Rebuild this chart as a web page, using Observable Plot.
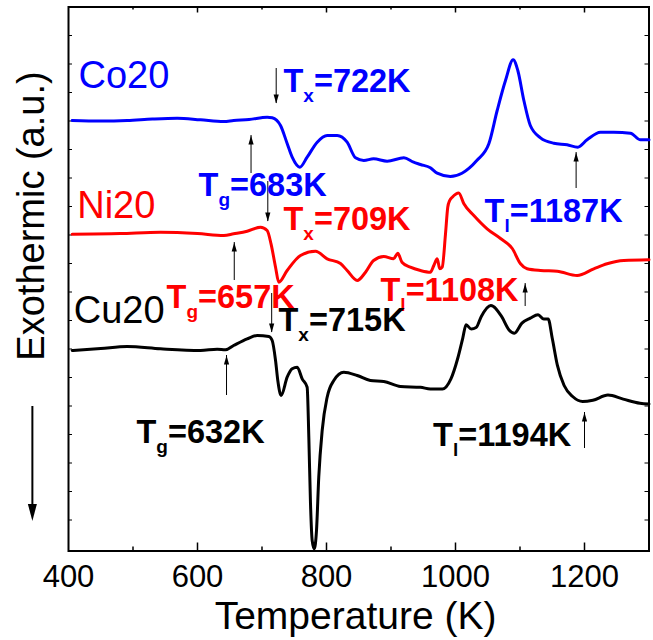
<!DOCTYPE html>
<html><head><meta charset="utf-8">
<script src="https://cdn.jsdelivr.net/npm/d3@7"></script>
<script src="https://cdn.jsdelivr.net/npm/@observablehq/plot@0.6"></script>
<style>body{margin:0;background:#fff}</style>
</head><body><div id="chart"></div>
<script>
// DSC curves: [Temperature (K), heat flow (a.u.)]
const co20 = [[405.7,430.5],[450,430],[491,430.5],[530,432],[568.5,432.8],[604.7,431.2],[640.8,429.5],[656,430.5],[680,431.5],[708,433.8],[715.8,433.2],[728.7,425.5],[739,407.5],[746.8,393.8],[758.6,383.8],[770,393.8],[785.6,408.8],[801,415.5],[816.6,415.5],[832,408.8],[845,393.2],[857.8,390.5],[873,392.2],[894,389.8],[920,393.2],[935,388.8],[945.7,386.5],[961,383.2],[971.6,377.8],[992,374.5],[1010,377.8],[1033,390.5],[1051.7,407.2],[1064.6,440.5],[1077.5,470.5],[1089.4,491.2],[1096.6,480.5],[1106,450.5],[1116,425.5],[1131.8,413.2],[1152.4,407.8],[1173,406.2],[1189.6,403.8],[1204,411.2],[1224.8,418.8],[1245.4,418.8],[1271.3,417.8],[1286.8,411.2],[1300,411.2]];
const ni20 = [[405.7,316.8],[480,317.5],[542.6,318.8],[600,317.5],[640.8,315.5],[656,317.2],[677,319.8],[697.7,323.8],[708,320.5],[714,307.2],[721,283.8],[726,268.8],[739,280.5],[759.7,295.5],[783,299.8],[801,292.2],[821.7,287.5],[832,280.5],[847.6,270.5],[860.5,278.8],[873,290.5],[888.8,294.5],[904,292.2],[910.5,297.8],[917,288.8],[930,283.8],[945.7,280.5],[961,278.8],[966.4,285.5],[971.6,292.2],[975.6,282.2],[979.4,283.8],[984.5,317.2],[988,343.8],[991,350.5],[995,353.8],[1005,358],[1013,347.2],[1028.4,335.5],[1049,322.2],[1069.8,312.5],[1088,302.5],[1100.8,287.2],[1111,282.2],[1131.8,280.5],[1157.6,279.8],[1188.6,275.5],[1214.4,282.2],[1235,287.2],[1261,290.5],[1300,291.2]];
const cu20 = [[405.7,200.5],[450,202.5],[491,204.5],[542.6,202.2],[604.7,200.5],[630.5,201.8],[643.4,201.2],[656,205.5],[677,212.2],[692.6,215.5],[710.6,214.5],[715.8,210.5],[721,190.5],[724.5,170.5],[729.7,155.5],[739,173.8],[746.8,182.2],[754.6,183.8],[762.3,172.2],[770,163.8],[772.6,113.8],[775.2,47.2],[777.8,10.5],[781,2.2],[784.5,20.5],[788,73.8],[793.3,120.5],[801,153.8],[811.3,170.5],[826.8,178.8],[847.6,175.5],[868,170.5],[888.8,169.5],[914.7,164.5],[945.7,163.7],[961,162],[979.8,162],[992.9,172.1],[1003.4,192.5],[1011.2,212.7],[1016.4,226.2],[1024.3,222.1],[1032,223.5],[1040,234.6],[1054.7,245.5],[1071.4,234.6],[1083,221.1],[1091.3,217.7],[1103,227.9],[1116,232.9],[1128,236.3],[1137,231.9],[1143.7,231.9],[1150,212.7],[1158,185.6],[1168.4,165.5],[1181.6,154.5],[1197.2,149.5],[1213,150.8],[1236.4,155.9],[1260,151.9],[1286,147.8],[1300,147]];

const seriesNames = ["Co20", "Ni20", "Cu20"];
const seriesColors = ["#0000ff", "#ff0000", "#000000"];
const seriesLabelT = [415.5, 413.5, 408.2];
const seriesLabelY = [463.5, 333.5, 228.5];

// characteristic temperature labels: "T" + subscript + rest
const annotSeries = [0, 0, 0, 1, 1, 1, 2, 2, 2];
const annotSub = ["x", "g", "l", "x", "g", "l", "x", "g", "l"];
const annotRest = ["=722K", "=683K", "=1187K", "=709K", "=657K", "=1108K", "=715K", "=632K", "=1194K"];
const annotT = [733.3, 601.6, 1045, 733.3, 552, 883.7, 725.6, 505.4, 965.3];
const annotY = [459.5, 355.5, 329.5, 321.5, 243.5, 250.5, 220.5, 108.5, 105.5];

// small marker arrows
const arrowT = [722, 683, 1187, 709, 657, 1108, 715, 645, 1200];
const arrowDir = ["down", "up", "up", "down", "up", "up", "down", "up", "up"];
const arrowTail = [482.5, 377.5, 362.5, 369.5, 270.5, 244.5, 257.5, 155.5, 102.5];
const arrowTip = [447.5, 415.5, 398.5, 329.5, 308.5, 267.5, 218.5, 195.5, 138.5];

const xTickLabels = [400, 600, 800, 1000, 1200];
const xMajor = [600, 800, 1000, 1200];
const xMinor = [500, 700, 900, 1100];
const yTicks = [515.5, 487, 458.5, 430, 401.5, 373, 344.5, 316, 287.5, 259, 230.5, 202, 173.5, 145, 116.5, 88, 59.5, 31];

const curves = [co20, ni20, cu20];
const lineRows = curves.flatMap((c, i) => c.map(([T, v]) => ({T, v, s: seriesNames[i]})));
const labelRows = seriesNames.map((n, i) => ({n, T: seriesLabelT[i], y: seriesLabelY[i], c: seriesColors[i]}));
const annotRows = annotSub.map((s, i) => ({text: "T|" + s + "|" + annotRest[i], T: annotT[i], y: annotY[i], c: seriesColors[annotSeries[i]]}));
const arrowRows = arrowT.map((T, i) => ({T, dir: arrowDir[i], tail: arrowTail[i], tip: arrowTip[i]}));

const headUp = {draw(ctx) { ctx.moveTo(0, 0); ctx.lineTo(2.6, 9); ctx.lineTo(-2.6, 9); ctx.closePath(); }};
const headDown = {draw(ctx) { ctx.moveTo(0, 0); ctx.lineTo(2.6, -9); ctx.lineTo(-2.6, -9); ctx.closePath(); }};
const bigHead = {draw(ctx) { ctx.moveTo(0, 0); ctx.lineTo(4.5, -17); ctx.lineTo(-4.5, -17); ctx.closePath(); }};

const FONT = "'Liberation Sans', Arial, Helvetica, sans-serif";
const pxK = 900 / 580.5; // kelvin per pixel for tick lengths

const chart = Plot.plot({
  width: 653, height: 640,
  marginLeft: 68, marginRight: 4.5, marginTop: 6.5, marginBottom: 89.5,
  style: {fontFamily: FONT, fontSize: "31px", background: "white", color: "black"},
  x: {domain: [400, 1300], ticks: xTickLabels, tickSize: 0, tickPadding: 14, tickFormat: d => String(d), label: null},
  y: {domain: [0, 544], axis: null},
  marks: [
    Plot.frame({stroke: "black", strokeWidth: 2}),
    Plot.ruleX(xMajor, {x: d => d, y1: 0, y2: 8, stroke: "black", strokeWidth: 1.5}),
    Plot.ruleX(xMinor, {x: d => d, y1: 0, y2: 4, stroke: "black", strokeWidth: 1.5}),
    Plot.ruleX(xMajor, {x: d => d, y1: 544, y2: 538, stroke: "black", strokeWidth: 1.5}),
    Plot.ruleX(xMinor, {x: d => d, y1: 544, y2: 541, stroke: "black", strokeWidth: 1.5}),
    Plot.ruleY(yTicks, {y: d => d, x1: 400, x2: 400 + 4 * pxK, stroke: "black", strokeWidth: 1}),
    Plot.ruleY(yTicks, {y: d => d, x1: 1300, x2: 1300 - 4 * pxK, stroke: "black", strokeWidth: 1}),
    Plot.line(lineRows, {x: "T", y: "v", z: "s", stroke: d => seriesColors[seriesNames.indexOf(d.s)], strokeWidth: 3, curve: "monotone-x"}),
    Plot.ruleX(arrowRows, {x: "T", y1: "tail", y2: "tip", stroke: "black", strokeWidth: 1}),
    Plot.dot(arrowRows.filter(d => d.dir === "up"), {x: "T", y: "tip", symbol: headUp, fill: "black", stroke: "none"}),
    Plot.dot(arrowRows.filter(d => d.dir === "down"), {x: "T", y: "tip", symbol: headDown, fill: "black", stroke: "none"}),
    Plot.text(labelRows, {x: "T", y: "y", text: "n", fill: "c", fontSize: 38, textAnchor: "start", lineAnchor: "bottom", fontFamily: FONT}),
    Plot.text(annotRows, {x: "T", y: "y", text: "text", fill: "c", fontSize: 32.5, fontWeight: "bold", textAnchor: "start", lineAnchor: "bottom", fontFamily: FONT}),
    Plot.text(["Temperature (K)"], {x: 845, y: -77.5, text: d => d, fontSize: 39, textAnchor: "middle", lineAnchor: "bottom", fontFamily: FONT}),
    Plot.text(["Exothermic (a.u.)"], {x: 362, y: 335, text: d => d, fontSize: 38, rotate: -90, textAnchor: "middle", lineAnchor: "bottom", fontFamily: FONT}),
    Plot.ruleX([344], {x: d => d, y1: 144.5, y2: 40, stroke: "black", strokeWidth: 2}),
    Plot.dot([344], {x: d => d, y: 30, symbol: bigHead, fill: "black", stroke: "none"})
  ]
});

// turn "T|x|=722K" into T with a subscript
d3.select(chart).selectAll("text").each(function() {
  const s = this.textContent;
  if (!s.includes("|")) return;
  const parts = s.split("|");
  const t = d3.select(this);
  t.selectAll("*").remove();
  t.text(null);
  t.append("tspan").text(parts[0]);
  t.append("tspan").attr("font-size", 19).attr("dy", 10).text(parts[1]);
  t.append("tspan").attr("dy", -10).text(parts[2]);
});

document.getElementById("chart").appendChild(chart);
</script>
</body></html>
